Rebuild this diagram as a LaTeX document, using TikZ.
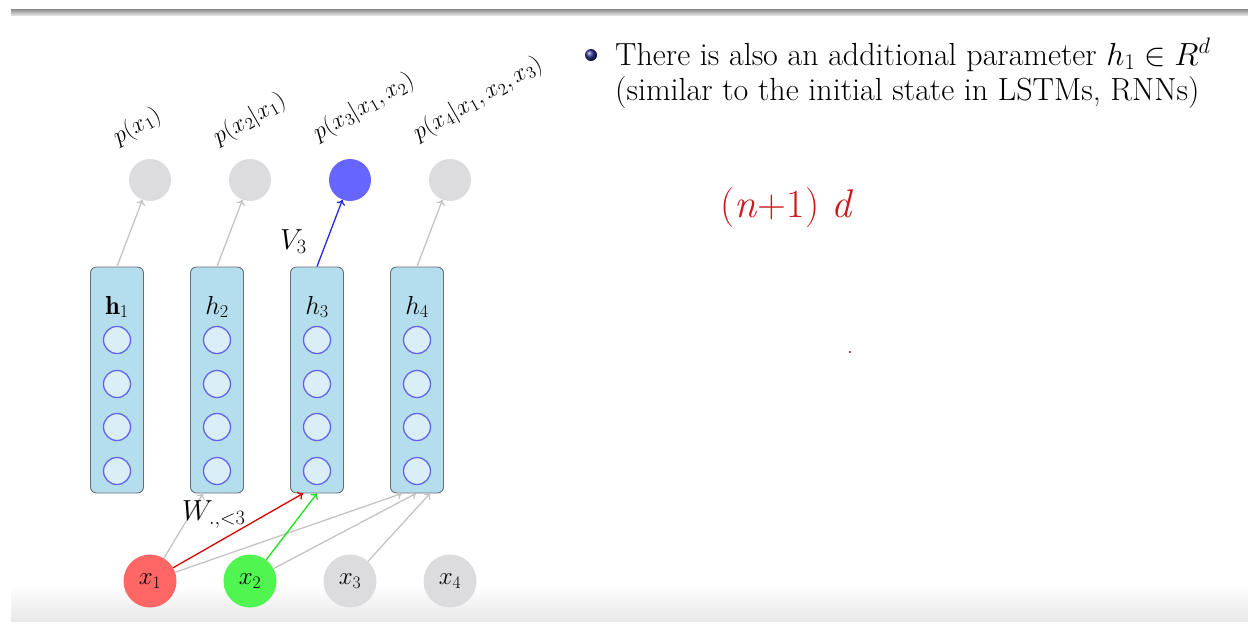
\RequirePackage{fix-cm}
\documentclass[tikz,border=0pt]{standalone}
\usepackage{fontspec}
\usetikzlibrary{arrows.meta,shadings}
\definecolor{boxfill}{RGB}{180,222,238}
\definecolor{boxline}{RGB}{100,110,115}
\definecolor{neurfill}{RGB}{218,238,247}
\definecolor{neurline}{RGB}{100,100,235}
\definecolor{outgray}{RGB}{220,220,222}
\definecolor{outblue}{RGB}{102,102,255}
\definecolor{inred}{RGB}{255,102,102}
\definecolor{ingreen}{RGB}{80,245,80}
\definecolor{linegray}{RGB}{195,195,195}
\definecolor{arred}{RGB}{220,0,0}
\definecolor{argreen}{RGB}{30,225,30}
\definecolor{arblue}{RGB}{40,40,220}
\definecolor{inkred}{RGB}{205,25,30}
\definecolor{ballblue}{RGB}{45,45,140}
\begin{document}
\begin{tikzpicture}[x=1pt,y=-1pt,
  hbox/.style={draw=boxline, fill=boxfill, rounded corners=6pt, minimum width=53pt, minimum height=226pt, line width=0.9pt, inner sep=0pt},
  neuron/.style={circle, draw=neurline, fill=neurfill, minimum size=27pt, line width=1.3pt, inner sep=0pt},
  outnode/.style={circle, fill=outgray, minimum size=42pt, inner sep=0pt},
  innode/.style={circle, fill=outgray, minimum size=53pt, inner sep=0pt, font=\fontsize{25}{30}\selectfont},
  plabel/.style={rotate=30, anchor=south west, inner sep=0pt, font=\fontsize{24}{28}\selectfont},
  hlabel/.style={font=\fontsize{26}{31}\selectfont, inner sep=0pt},
  wlabel/.style={font=\fontsize{29}{34}\selectfont, inner sep=0pt},
  conn/.style={line width=1.3pt, -{To[length=5pt,width=9pt]}},
  ]
\useasboundingbox (0,0) rectangle (1248,625);
% slide decorations
\shade[top color=black!45, bottom color=black!12] (11,9) rectangle (1248,15);
\shade[top color=white, bottom color=black!9] (11,585) rectangle (1248,621);

% hidden-state boxes
\foreach \i/\x in {1/117,2/217,3/317,4/417}{
  \node[hbox] (h\i) at (\x,380) {};
  \node[neuron] (n\i a) at (\x,340) {};
  \node[neuron] (n\i b) at (\x,384) {};
  \node[neuron] (n\i c) at (\x,427) {};
  \node[neuron] (n\i d) at (\x,471) {};
}
\node[hlabel] (hl1) at (117,307) {$\mathbf{h}_1$};
\node[hlabel] (hl2) at (217,307) {$h_2$};
\node[hlabel] (hl3) at (317,307) {$h_3$};
\node[hlabel] (hl4) at (417,307) {$h_4$};

% outputs
\node[outnode] (p1) at (150,180) {};
\node[outnode] (p2) at (250,180) {};
\node[outnode, fill=outblue] (p3) at (350,180) {};
\node[outnode] (p4) at (450,180) {};
\node[plabel] (pl1) at (121,150) {$p(x_1)$};
\node[plabel] (pl2) at (221,150) {$p(x_2|x_1)$};
\node[plabel] (pl3) at (321,146) {$p(x_3|x_1,x_2)$};
\node[plabel] (pl4) at (421,146) {$p(x_4|x_1,x_2,x_3)$};

% inputs
\node[innode, fill=inred] (x1) at (150,581) {$x_1$};
\node[innode, fill=ingreen] (x2) at (250,581) {$x_2$};
\node[innode] (x3) at (350,581) {$x_3$};
\node[innode] (x4) at (450,581) {$x_4$};

% output connectors
\draw[conn, linegray] (h1.north) -- (p1);
\draw[conn, linegray] (h2.north) -- (p2);
\draw[conn, arblue] (h3.north) -- (p3);
\draw[conn, linegray] (h4.north) -- (p4);
\node[wlabel, anchor=base west] (v3) at (280,249) {$V_3$};

% input connectors
\coordinate (t21) at ([xshift=-14pt]h2.south);
\coordinate (t31) at ([xshift=-14pt]h3.south);
\coordinate (t32) at ([xshift=0pt]h3.south);
\coordinate (t41) at ([xshift=-15pt]h4.south);
\coordinate (t42) at ([xshift=-1pt]h4.south);
\coordinate (t43) at ([xshift=13pt]h4.south);
\draw[conn, linegray] (x1) -- (t21);
\draw[conn, linegray] (x1) -- (t41);
\draw[conn, linegray] (x2) -- (t42);
\draw[conn, linegray] (x3) -- (t43);
\draw[conn, arred] (x1) -- (t31);
\draw[conn, argreen] (x2) -- (t32);
\node[wlabel, anchor=base west] (w) at (182,520) {$W_{.,<3}$};

% text on the right
\shade[ball color=ballblue] (591,55) circle (6pt);
\node[anchor=base west, inner sep=0pt, align=left, font=\fontsize{32}{35}\selectfont] (txt) at (615,100)
  {There is also an additional parameter $h_1 \in R^d$\\(similar to the initial state in LSTMs, RNNs)};

% handwritten note
\node[inkred, inner sep=0pt, font=\fontsize{40}{44}\selectfont] (note) at (787,208) {(\textit{n}+1) \textit{d}};
\fill[inkred!70!black] (850,352) circle (1.2pt);
\end{tikzpicture}
\end{document}
